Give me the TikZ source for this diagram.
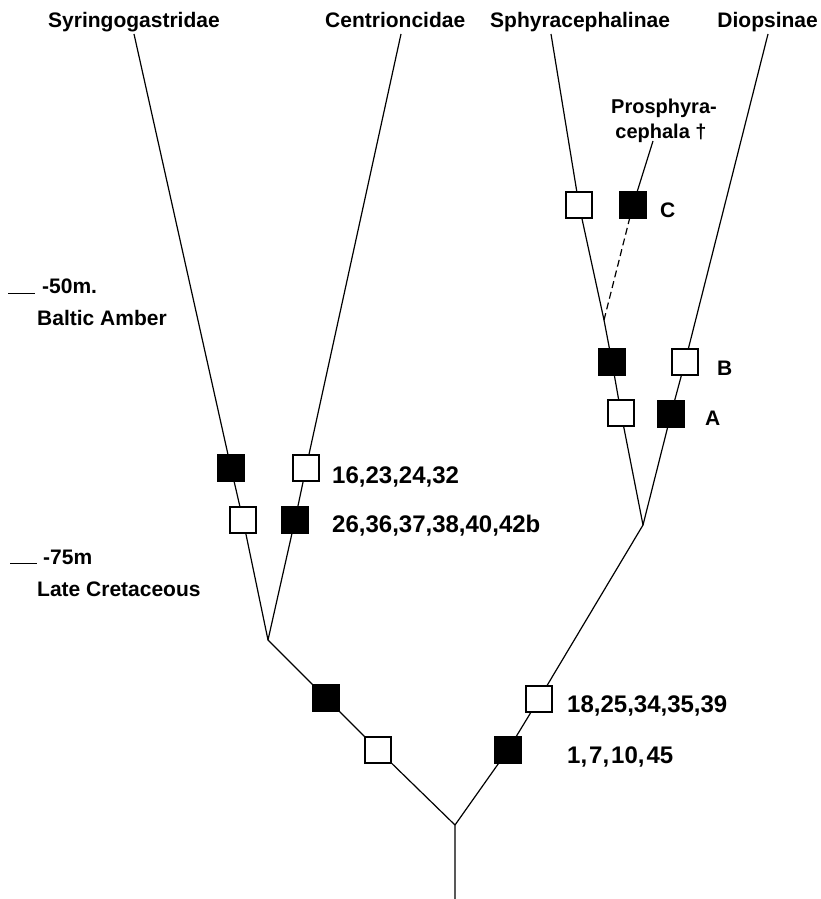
\documentclass[tikz,border=0pt]{standalone}
\usepackage{fontspec}
\setmainfont{Liberation Sans}
\usetikzlibrary{calc}
\begin{document}
\begin{tikzpicture}[x=1pt,y=-1pt,
  br/.style={line width=1.2pt},
  wsq/.style={draw, fill=white, line width=1.3pt, minimum size=26pt, inner sep=0pt},
  bsq/.style={wsq, fill=black},
  lab/.style={font=\bfseries\fontsize{21}{25}\selectfont, inner sep=0pt},
  plab/.style={font=\bfseries\fontsize{20}{24}\selectfont, inner sep=0pt},
  num/.style={font=\bfseries\fontsize{24}{28}\selectfont, inner sep=0pt},
  tick/.style={line width=1pt}
]
\useasboundingbox[fill=white] (0,0) rectangle (821,899);

% taxon labels
\node[lab, anchor=base west] (lS) at (48,28) {Syringogastridae};
\node[lab, anchor=base west] (lC) at (325,28) {Centrioncidae};
\node[lab, anchor=base west] (lP) at (490,28) {Sphyracephalinae};
\node[lab, anchor=base east] (lD) at (818,28) {Diopsinae};
\node[plab, anchor=base] (pr1) at (664,113) {Prosphyra-};
\node[plab, anchor=base] (pr2) at (661,138) {cephala †};

% branch points
\coordinate (tS) at (134,34);
\coordinate (tC) at (401,34);
\coordinate (tP) at (551,34);
\coordinate (tD) at (768,34);
\coordinate (tPr) at (653,141);
\coordinate (rb) at (455,899);
\coordinate (r) at (455,825);
\coordinate (jl) at (268,640);
\coordinate (jr) at (643,525);
\coordinate (at) at (604,320);

% character squares
\node[bsq] (s1) at (231,468) {};
\node[wsq] (s2) at (243,520) {};
\node[wsq] (c1) at (306,468) {};
\node[bsq] (c2) at (295,520) {};
\node[bsq] (l1) at (326,698) {};
\node[wsq] (l2) at (378,750) {};
\node[wsq] (r1) at (539,699) {};
\node[bsq] (r2) at (508,750) {};
\node[wsq] (p1) at (621,413) {};
\node[bsq] (p2) at (612,362) {};
\node[wsq] (p3) at (579,205) {};
\node[bsq] (dA) at (671,414) {};
\node[wsq] (dB) at (685,362) {};
\node[bsq] (pC) at (633,205) {};

% branches
\draw[br] (rb) -- (r) -- (l2) -- (l1) -- (jl) -- (s2) -- (s1) -- (tS);
\draw[br] (jl) -- (c2) -- (c1) -- (tC);
\draw[br] (r) -- (r2) -- (r1) -- (jr) -- (p1) -- (p2) -- (at) -- (p3) -- (tP);
\draw[br] (jr) -- (dA) -- (dB) -- (tD);
\draw[br, dash pattern=on 7pt off 4pt] (at) -- (pC);
\draw[br] (pC) -- (tPr);

% character labels
\node[num, anchor=base west] (n1) at (332,483) {16,23,24,32};
\node[num, anchor=base west] (n2) at (332,532) {26,36,37,38,40,42b};
\node[num, anchor=base west] (n3) at (567,712) {18,25,34,35,39};
\node[num, anchor=base west] (n4) at (567,763) {\spaceskip=2pt 1, 7, 10, 45};
\node[lab, anchor=base west] (tA) at (705,425) {A};
\node[lab, anchor=base west] (tB) at (717,375) {B};
\node[lab, anchor=base west] (tCc) at (660,217) {C};

% time scale
\coordinate (m1a) at (8,293);
\coordinate (m1b) at (35,293);
\coordinate (m2a) at (10,563);
\coordinate (m2b) at (37,563);
\draw[tick] (m1a) -- (m1b);
\draw[tick] (m2a) -- (m2b);
\node[lab, anchor=base west] (t50) at (42,293) {-50m.};
\node[lab, anchor=base west] (tBA) at (37,325) {Baltic Amber};
\node[lab, anchor=base west] (t75) at (43,564) {-75m};
\node[lab, anchor=base west] (tLC) at (37,596) {Late Cretaceous};
\end{tikzpicture}
\end{document}
